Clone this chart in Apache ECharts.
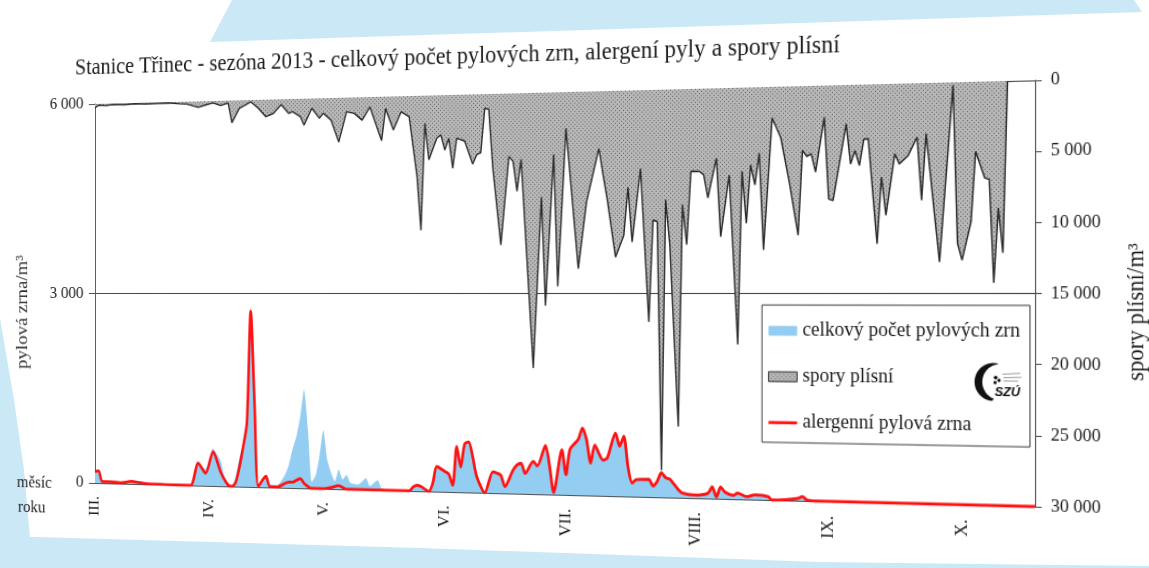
<!DOCTYPE html>
<html>
<head>
<meta charset="utf-8">
<script src="https://cdn.jsdelivr.net/npm/echarts@6/dist/echarts.min.js"></script>
<style>
  html, body { margin: 0; padding: 0; width: 1149px; height: 568px; overflow: hidden; background: #ffffff; }
  #sheet { position: absolute; left: 0; top: 0; }
  #chart { position: absolute; left: 0; top: 0; width: 1149px; height: 568px; transform-origin: 0 0; }
</style>
</head>
<body>
<svg id="sheet" width="1149" height="568">
  <rect width="1149" height="568" fill="#ffffff"/>
  <polygon points="232,0 1134,0 1142,12 210,42" fill="#cbe8f6"/>
  <polygon points="0,318 14,400 24,470 30,538 0,537" fill="#cbe8f6"/>
  <polygon points="0,536 420,548 820,562 1149,566 1149,568 0,568" fill="#cbe8f6"/>
</svg>
<div id="chart"></div>
<script>
// ---- texts ----
const titleText = 'Stanice Třinec - sezóna 2013 - celkový počet pylových zrn, alergení pyly a spory plísní';
const seriesNames = ['celkový počet pylových zrn', 'spory plísní', 'alergenní pylová zrna'];
const leftAxisName = 'pylová zrna/m³';
const rightAxisName = 'spory plísní/m³';
const rowLabels = ['měsíc', 'roku'];

// ---- x axis: days counted from 1 March 2013 ----
const seasonDays = 230;
const monthStarts = [0, 31, 61, 92, 122, 153, 184, 214];
const monthNames = ['III.', 'IV.', 'V.', 'VI.', 'VII.', 'VIII.', 'IX.', 'X.'];

// ---- mould spores per m3 (right axis) ----
const sporeDays = [0,1,3,5,8,11,14,17,20,23,25,28,30,32,34,36,37,39,42,44,46,48,50,52,53,55,56,58,60,61,63,65,67,69,71,73,76,77,79,81,83,85,86,87,88,90,91,92,93,94,95,97,99,100,101,102,103,104,106,108,109,110,111,114,116,117,119,120,122,125,127,130,131,132,134,136,137,138,140,142,143,144,145,146,147,149,150,151,152,154,155,156,158,159,161,163,164,165,166,167,168,169,171,173,175,177,178,179,180,181,183,184,185,188,189,190,191,192,193,195,196,197,199,200,202,204,205,206,209,212,213,214,216,217,219,220,221,222,223,224];
const sporeCounts = [300,100,150,80,120,60,100,80,60,150,190,460,300,150,370,180,1730,620,140,650,1320,1070,420,1100,980,1370,2030,750,1530,1160,1700,3390,1080,1220,1750,760,3340,900,2550,1170,1570,6130,10200,2090,4870,3250,3000,4150,3270,5530,3270,3500,5250,4550,4400,1060,1150,5580,11350,4720,5080,7330,4950,20570,7800,15900,4630,14460,2700,13150,8200,4250,6200,8000,12300,10700,7150,11200,5790,17090,9600,9700,28000,8100,11430,24780,8480,11420,6030,6050,6300,8000,5100,10850,6350,18720,6100,9880,5640,7100,4800,11830,2250,3700,7000,10780,4640,5100,4900,6220,2280,8180,8300,2800,5690,4730,5810,3920,3900,11440,6650,9400,5000,5730,5140,3840,8350,3600,12750,200,11440,12630,9900,4930,6820,6930,14250,8950,12130,0];

// ---- total pollen grains per m3 (left axis) ----
const pollenDays = [0,1,2,4,7,10,12,14,18,22,26,28,30,32,33,34,35,36,37,38,39,40,41,42,43,44,46,47,49,50,51,52,53,54,55,56,57,58,59,60,61,62,63,64,65,66,67,68,70,72,73,75,76,78,81,83,84,85,86,88,89,90,92,93,94,95,96,97,98,99,100,102,104,105,106,107,109,110,111,112,114,115,117,118,119,121,122,123,125,126,127,128,129,131,132,134,135,136,137,138,139,142,143,144,145,146,147,149,150,153,156,157,158,159,160,162,163,165,167,170,171,174,177,178,179,182,230];
const pollenCounts = [190,200,30,30,20,45,30,15,10,0,0,380,260,580,500,400,150,40,10,150,450,700,1050,2750,1350,30,180,40,40,100,200,350,600,800,1100,1520,900,100,200,500,900,450,250,120,300,150,220,100,80,180,60,150,30,10,0,0,70,100,80,10,150,400,330,290,130,700,400,740,770,560,260,10,340,320,290,120,370,450,470,330,510,440,750,450,50,690,320,700,850,1020,850,500,770,550,580,950,760,910,460,220,270,280,180,250,380,310,290,140,90,60,90,180,40,180,110,65,100,50,80,60,10,20,40,65,20,0,0];

// ---- allergenic pollen grains per m3 (left axis) ----
const allergenDays = [0,1,2,4,7,10,12,14,18,22,26,28,30,32,34,36,37,38,39,40,41,42,43,44,46,47,49,52,53,55,56,58,61,63,65,67,72,81,83,84,85,86,88,89,90,92,93,94,95,96,97,98,99,100,102,104,105,106,107,109,110,111,112,114,115,117,118,119,121,122,123,125,126,127,128,129,131,132,134,135,136,137,138,139,142,143,144,145,146,147,149,150,153,156,157,158,159,160,162,163,165,167,170,171,174,177,178,179,182,230];
const allergenCounts = [180,195,25,25,15,40,25,10,5,0,0,350,195,535,225,20,0,60,300,620,1000,2730,1300,10,170,15,10,90,90,150,75,0,0,20,55,0,0,0,0,60,90,70,0,130,380,310,270,100,690,380,730,760,540,240,0,320,300,270,100,350,430,455,305,490,420,730,425,30,670,300,680,830,1000,830,480,750,530,560,930,740,890,440,200,250,260,160,235,360,290,270,120,70,45,75,170,25,170,100,55,90,40,70,50,0,10,35,60,15,0,0];

// ---- axis ranges ----
const pollenMax = 6000, pollenStep = 3000;
const sporeMax = 30000, sporeStep = 5000;

// ---- page geometry: the sheet is seen slightly from the left, so the plot is
// drawn flat and then projected so its right edge looks taller than its left ----
const PLOT_LEFT = 95, PLOT_RIGHT = 1035, PLOT_TOP = 104, PLOT_BOTTOM = 483;
const PLOT_W = PLOT_RIGHT - PLOT_LEFT;
const HORIZON = (PLOT_TOP + PLOT_BOTTOM) / 2;
const DEPTH = 1.125;
const G = 1 / DEPTH - 1;

// sheet position -> flat chart position
function toFlat(x, y) {
  const u = (x - PLOT_LEFT) / PLOT_W;
  const t = u / ((1 + G) - G * u);
  const w = 1 + G * t;
  return [PLOT_LEFT + PLOT_W * t, HORIZON + (y - HORIZON) * w];
}

function projection() {
  const k = G / PLOT_W;
  const a1 = 1 + G + PLOT_LEFT * k;
  const a4 = -PLOT_LEFT * G - PLOT_LEFT * PLOT_LEFT * k;
  const b1 = HORIZON * k;
  const b4 = -HORIZON * PLOT_LEFT * k;
  const d1 = k;
  const d4 = 1 - PLOT_LEFT * k;
  return `matrix3d(${a1},${b1},0,${d1},0,1,0,0,0,0,1,0,${a4},${b4},0,${d4})`;
}

const zip = (xs, ys) => xs.map((d, i) => [d, ys[i]]);
const spaced = v => String(v).replace(/\B(?=(\d{3})+(?!\d))/g, ' ');

// stippled grey fill used for the mould spores
function stipple() {
  const c = document.createElement('canvas');
  c.width = 4; c.height = 4;
  const g = c.getContext('2d');
  g.fillStyle = '#b7b7b7'; g.fillRect(0, 0, 4, 4);
  g.fillStyle = '#686868'; g.fillRect(0, 0, 1, 1); g.fillRect(2, 2, 1, 1);
  return { image: c, repeat: 'repeat' };
}

// crescent of the SZÚ logo as a closed outline
function crescent() {
  const pts = [];
  for (let a = 280; a >= 95; a -= 5) {
    const r = a * Math.PI / 180;
    pts.push([4 + 17 * Math.cos(r), 17 * Math.sin(r)]);
  }
  for (let a = 110; a <= 265; a += 5) {
    const r = a * Math.PI / 180;
    pts.push([10 + 16 * Math.cos(r), 16 * Math.sin(r)]);
  }
  return pts;
}

// thin bar icon for the line entry of the legend (bounds padded to the full icon box)
const LINE_ICON = 'path://M0,0L0.01,0L0.01,0.01L0,0.01Z M0,3.2L27,3.2L27,6L0,6Z M26.99,8.99L27,8.99L27,9L26.99,9Z';

const FONT = '"Liberation Serif", "DejaVu Serif", serif';
const INK = '#1b1b1b';
const BLUE = '#93cdf1';
const RED = '#ff1212';
const dots = stipple();

const el = document.getElementById('chart');
el.style.transform = projection();
const chart = echarts.init(el, null, { renderer: 'canvas' });

const P = (x, y) => toFlat(x, y);
const titlePos = P(75, 69);
const leftNamePos = P(23, 312);
const rightNamePos = P(1137, 312);
const row1 = P(17, 483), row2 = P(18, 507);
const boxA = P(762, 305), boxB = P(1030, 447);
const legendPos = P(768, 320);
const logo = P(989, 382);

const logoParts = [
  { type: 'polygon', shape: { points: crescent() }, style: { fill: '#111' } },
  { type: 'circle', shape: { cx: 6, cy: -4, r: 1.7 }, style: { fill: '#111' } },
  { type: 'circle', shape: { cx: 9, cy: -1.5, r: 1.5 }, style: { fill: '#111' } },
  { type: 'circle', shape: { cx: 5.5, cy: 0.5, r: 1.5 }, style: { fill: '#111' } },
  { type: 'line', shape: { x1: 12, y1: -7, x2: 28, y2: -8 }, style: { stroke: '#8a8a8a', lineWidth: 0.8 } },
  { type: 'line', shape: { x1: 13, y1: -4, x2: 29, y2: -4.5 }, style: { stroke: '#8a8a8a', lineWidth: 0.8 } },
  { type: 'line', shape: { x1: 13, y1: -1, x2: 26, y2: -1 }, style: { stroke: '#8a8a8a', lineWidth: 0.8 } },
  { type: 'text', style: { x: 5, y: 9, text: 'SZÚ', fontFamily: '"Liberation Sans", sans-serif', fontSize: 11.5, fontWeight: 'bold', fontStyle: 'italic', fill: '#111', verticalAlign: 'middle' } }
].map(p => Object.assign(p, { x: logo[0], y: logo[1], z: 30 }));

chart.setOption({
  backgroundColor: 'transparent',
  animation: false,
  grid: { left: PLOT_LEFT, top: PLOT_TOP, width: PLOT_W, height: PLOT_BOTTOM - PLOT_TOP, containLabel: false },
  xAxis: {
    type: 'value', min: 0, max: seasonDays,
    axisLine: { show: true, lineStyle: { color: '#555', width: 1 } },
    axisTick: { show: false },
    splitLine: { show: false },
    axisLabel: {
      customValues: monthStarts,
      formatter: v => monthNames[monthStarts.indexOf(v)] || '',
      rotate: 90, margin: 13,
      fontFamily: FONT, fontSize: 16, color: INK
    }
  },
  yAxis: [
    {
      type: 'value', min: 0, max: pollenMax, interval: pollenStep, position: 'left',
      axisLine: { show: true, lineStyle: { color: '#555', width: 1 } },
      axisTick: { show: true, length: 7, lineStyle: { color: '#555' } },
      splitLine: { show: true, lineStyle: { color: '#4a4a4a', width: 1 } },
      axisLabel: { formatter: spaced, margin: 13, fontFamily: FONT, fontSize: 17, color: INK }
    },
    {
      type: 'value', min: 0, max: sporeMax, interval: sporeStep, position: 'right', inverse: true,
      axisLine: { show: true, lineStyle: { color: '#555', width: 1 } },
      axisTick: { show: true, length: 6, lineStyle: { color: '#555' } },
      splitLine: { show: false },
      axisLabel: { formatter: spaced, margin: 14, fontFamily: FONT, fontSize: 16, color: INK }
    }
  ],
  legend: {
    orient: 'vertical', left: legendPos[0], top: toFlat(800, 320)[1],
    padding: 0, itemGap: 22, itemWidth: 27, itemHeight: 9,
    selectedMode: false, z: 20,
    textStyle: { fontFamily: FONT, fontSize: 18, color: INK, lineHeight: 20 },
    data: [
      { name: seriesNames[0], icon: 'rect' },
      { name: seriesNames[1], icon: 'rect', itemStyle: { color: dots, borderColor: '#333', borderWidth: 1 } },
      { name: seriesNames[2], icon: LINE_ICON, itemStyle: { color: RED } }
    ]
  },
  series: [
    {
      name: seriesNames[1], type: 'line', yAxisIndex: 1, z: 1,
      data: zip(sporeDays, sporeCounts),
      symbol: 'none', smooth: false,
      itemStyle: { color: '#9a9a9a' },
      lineStyle: { color: '#2a2a2a', width: 1.4 },
      areaStyle: { color: dots, opacity: 1 }
    },
    {
      name: seriesNames[0], type: 'line', yAxisIndex: 0, z: 2,
      data: zip(pollenDays, pollenCounts),
      symbol: 'none', smooth: 0.2,
      itemStyle: { color: BLUE },
      lineStyle: { width: 0, opacity: 0 },
      areaStyle: { color: BLUE, opacity: 1 }
    },
    {
      name: seriesNames[2], type: 'line', yAxisIndex: 0, z: 3,
      data: zip(allergenDays, allergenCounts),
      symbol: 'none', smooth: 0.25,
      itemStyle: { color: RED },
      lineStyle: { color: RED, width: 2.8 }
    }
  ],
  graphic: [
    { type: 'text', x: titlePos[0], y: titlePos[1], z: 10,
      style: { text: titleText, fontFamily: FONT, fontSize: 22.5, fill: INK, verticalAlign: 'middle' } },
    { type: 'text', x: leftNamePos[0], y: leftNamePos[1], rotation: Math.PI / 2, z: 10,
      style: { text: leftAxisName, fontFamily: FONT, fontSize: 19, fill: '#333', align: 'center', verticalAlign: 'middle' } },
    { type: 'text', x: rightNamePos[0], y: rightNamePos[1], rotation: Math.PI / 2, z: 10,
      style: { text: rightAxisName, fontFamily: FONT, fontSize: 20, fill: INK, align: 'center', verticalAlign: 'middle' } },
    { type: 'text', x: row1[0], y: row1[1], z: 10,
      style: { text: rowLabels[0], fontFamily: FONT, fontSize: 17, fill: INK, verticalAlign: 'middle' } },
    { type: 'text', x: row2[0], y: row2[1], z: 10,
      style: { text: rowLabels[1], fontFamily: FONT, fontSize: 17, fill: INK, verticalAlign: 'middle' } },
    { type: 'rect', z: 15,
      shape: { x: boxA[0], y: boxA[1], width: boxB[0] - boxA[0], height: boxB[1] - boxA[1] },
      style: { fill: '#ffffff', stroke: '#444', lineWidth: 1 } }
  ].concat(logoParts)
});
</script>
</body>
</html>
